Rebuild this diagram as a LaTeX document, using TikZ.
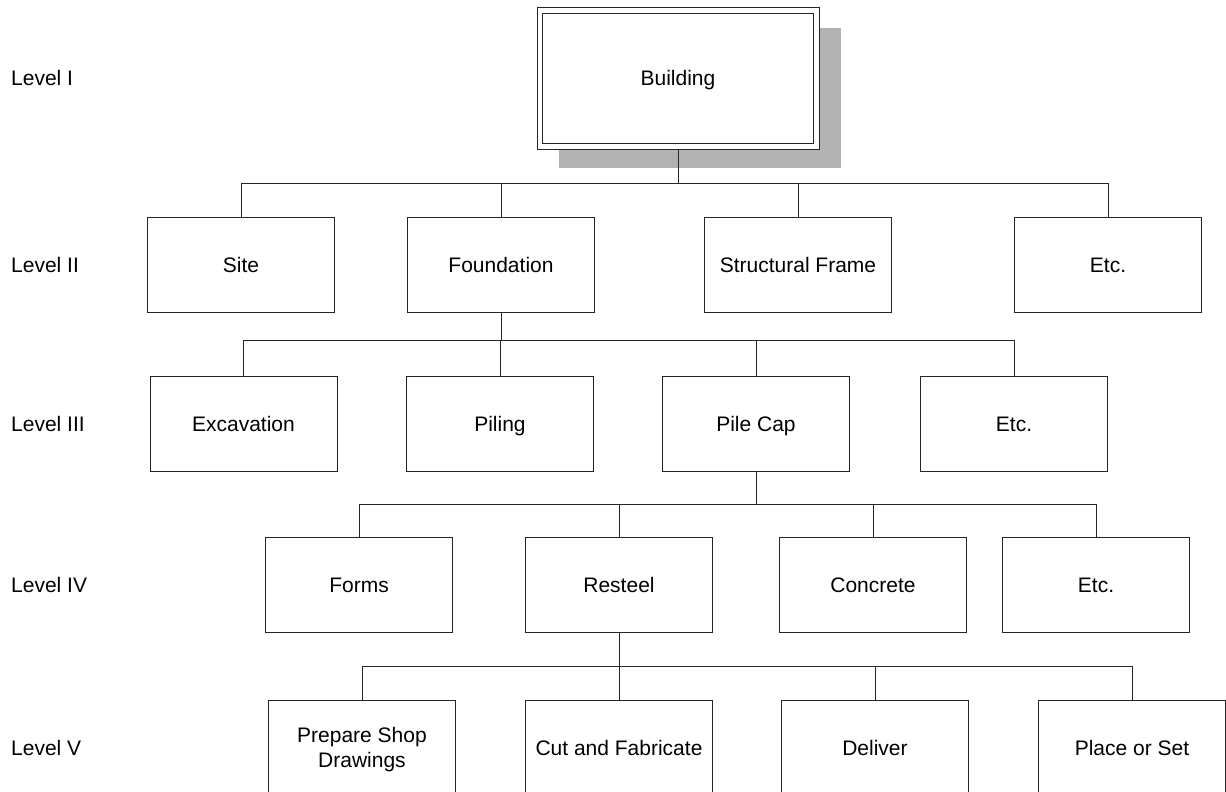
\documentclass[tikz,border=0pt]{standalone}
\usepackage{fontspec}
\setmainfont{Liberation Sans}
\usetikzlibrary{positioning, calc, backgrounds}

\begin{document}
\begin{tikzpicture}[
  x=1pt, y=-1pt,
  font=\fontsize{21}{25}\selectfont,
  box/.style={draw=black!85, line width=0.8pt, fill=white, align=center,
              minimum width=187pt, minimum height=95pt, inner sep=0pt,
              text height=20pt, text depth=5pt},
  rootbox/.style={draw=black!85, line width=0.9pt, fill=white,
              minimum width=282pt, minimum height=142pt, inner sep=0pt,
              text height=20pt, text depth=5pt},
  link/.style={draw=black!85, line width=0.8pt},
  lvl/.style={anchor=west, inner sep=0pt, text height=20pt, text depth=5pt}
]
\useasboundingbox (0,0) rectangle (1226,792);
\clip (0,0) rectangle (1226,792);

% ================= LEVEL I =================
\node[rootbox] (bld) at (678,78) {Building};
\draw[black!85, line width=0.8pt]
  ($(bld.north west)+(6,6.5)$) rectangle ($(bld.south east)+(-6,-6)$);
\begin{scope}[on background layer]
  \fill[black!30] ($(bld.north west)+(22,21)$) rectangle ($(bld.south east)+(22,19)$);
\end{scope}

% ================= LEVEL II =================
\node[box] (site)  at (241,264.5)  {Site};
\node[box] (fnd)   at (501,264.5)  {Foundation};
\node[box] (frame) at (798,264.5)  {Structural Frame};
\node[box] (etcA)  at (1108,264.5) {Etc.};

% ================= LEVEL III =================
\node[box] (exc)  at (243.5,423.5) {Excavation};
\node[box] (pile) at (500,423.5)   {Piling};
\node[box] (cap)  at (756,423.5)   {Pile Cap};
\node[box] (etcB) at (1014,423.5)  {Etc.};

% ================= LEVEL IV =================
\node[box] (forms) at (359,584.5)  {Forms};
\node[box] (steel) at (619,584.5)  {Resteel};
\node[box] (conc)  at (873,584.5)  {Concrete};
\node[box] (etcC)  at (1096,584.5) {Etc.};

% ================= LEVEL V =================
\node[box, text height=45pt] (shop) at (362,747.5) {Prepare Shop\\Drawings};
\node[box] (cut)   at (619,747.5)  {Cut and Fabricate};
\node[box] (dlv)   at (875,747.5)  {Deliver};
\node[box] (place) at (1132,747.5) {Place or Set};

% ================= LEVEL NAMES =================
\node[lvl] (lvlI)   at (11,78)    {Level I};
\node[lvl] (lvlII)  at (11,264.5) {Level II};
\node[lvl] (lvlIII) at (11,423.5) {Level III};
\node[lvl] (lvlIV)  at (11,584.5) {Level IV};
\node[lvl] (lvlV)   at (11,747.5) {Level V};

% ================= TREE LINES =================
\coordinate (busA) at ($(bld.south)!.5!(bld.south |- site.north)$);
\draw[link] (site.north) |- (etcA.north |- busA) -- (etcA.north);
\draw[link] (bld.south) -- (bld.south |- busA);
\draw[link] (fnd.north) -- (fnd.north |- busA);
\draw[link] (frame.north) -- (frame.north |- busA);

\coordinate (busB) at ($(fnd.south)!.45!(fnd.south |- exc.north)$);
\draw[link] (exc.north) |- (etcB.north |- busB) -- (etcB.north);
\draw[link] (fnd.south) -- (fnd.south |- busB);
\draw[link] (pile.north) -- (pile.north |- busB);
\draw[link] (cap.north) -- (cap.north |- busB);

\coordinate (busC) at ($(cap.south)!.5!(cap.south |- forms.north)$);
\draw[link] (forms.north) |- (etcC.north |- busC) -- (etcC.north);
\draw[link] (cap.south) -- (cap.south |- busC);
\draw[link] (steel.north) -- (steel.north |- busC);
\draw[link] (conc.north) -- (conc.north |- busC);

\coordinate (busD) at ($(steel.south)!.5!(steel.south |- shop.north)$);
\draw[link] (shop.north) |- (place.north |- busD) -- (place.north);
\draw[link] (steel.south) -- (steel.south |- busD);
\draw[link] (cut.north) -- (cut.north |- busD);
\draw[link] (dlv.north) -- (dlv.north |- busD);
\end{tikzpicture}
\end{document}
